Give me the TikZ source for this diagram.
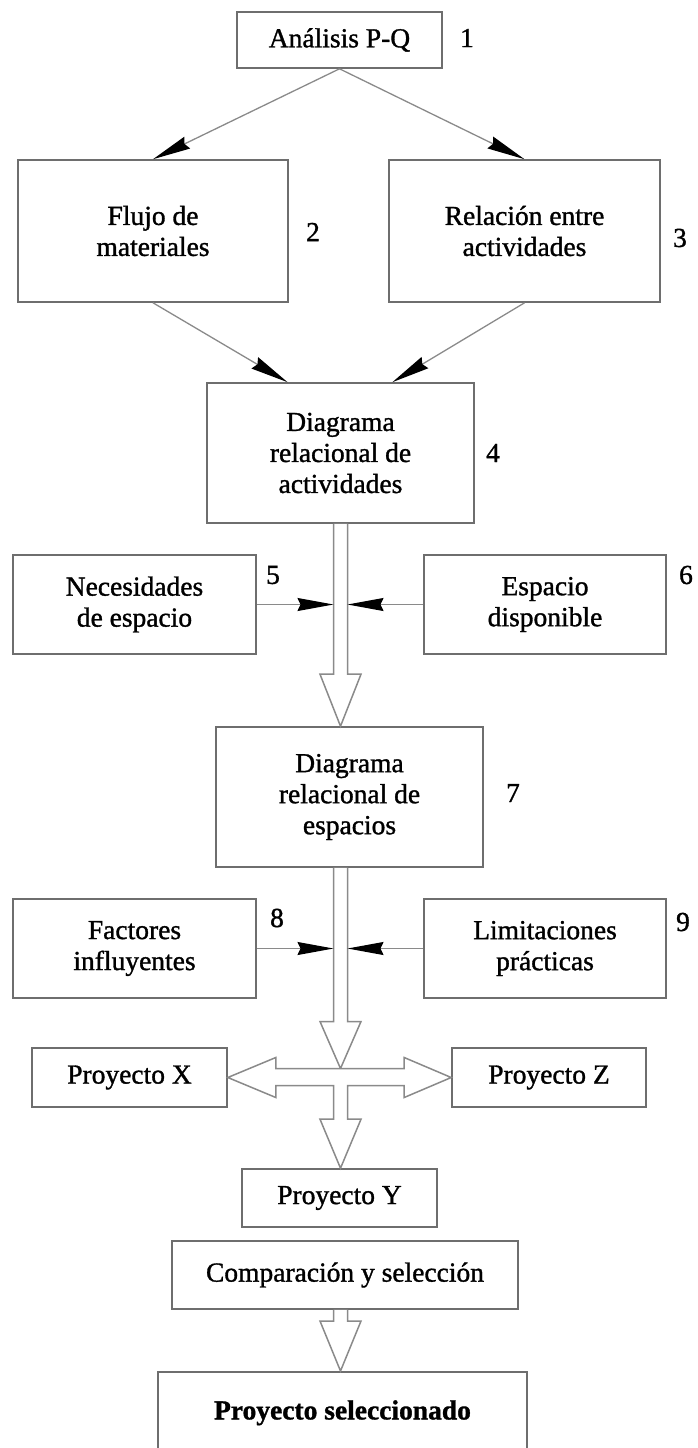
\documentclass[tikz,border=0pt]{standalone}
\usepackage{fontspec}
\setmainfont{Liberation Serif}[RawFeature={embolden=1.2}]
\usetikzlibrary{arrows.meta,calc}
\definecolor{boxgray}{HTML}{6E6E6E}
\definecolor{linegray}{HTML}{8A8A8A}
% vertical hollow arrow: #1 start, #2 tip (same x), #3 head length
\newcommand{\hollowarrow}[3]{%
  \draw[hollow] ($(#1)+(-7,0)$) -- ($(#2)+(-7,-#3)$) -- ($(#2)+(-20.5,-#3)$) -- (#2)
    -- ($(#2)+(20.5,-#3)$) -- ($(#2)+(7,-#3)$) -- ($(#1)+(7,0)$);}
\begin{document}
\begin{tikzpicture}[x=1pt,y=-1pt,
  font=\fontsize{27.5}{31}\selectfont,
  box/.style={draw=boxgray, line width=1.6pt, align=center, inner sep=0pt, text=black},
  num/.style={inner sep=0pt, text=black},
  conn/.style={draw=linegray, line width=1.3pt, -{Stealth[length=38pt,width=13pt,inset=3pt,color=black]}},
  sconn/.style={draw=linegray, line width=1.3pt, -{Stealth[length=36pt,width=13pt,inset=3pt,color=black]}},
  hollow/.style={draw=linegray, line width=1.5pt, fill=white, line join=miter}]
\useasboundingbox (0,0) rectangle (698,1448);
\clip (0,0) rectangle (698,1448);

% boxes
\node[box, minimum width=205, minimum height=56] (b1) at (339.5,40) {Análisis P-Q};
\node[num] (n1) at (467,38) {1};
\node[box, minimum width=270, minimum height=142] (b2) at (153,231) {Flujo de\\materiales};
\node[num] (n2) at (313,232) {2};
\node[box, minimum width=271, minimum height=142] (b3) at (524.5,231) {Relación entre\\actividades};
\node[num] (n3) at (680,238) {3};
\node[box, minimum width=267, minimum height=140] (b4) at (340.5,453) {Diagrama\\relacional de\\actividades};
\node[num] (n4) at (493,453) {4};
\node[box, minimum width=243, minimum height=99] (b5) at (134.5,604.5) {Necesidades\\de espacio};
\node[num] (n5) at (273,575) {5};
\node[box, minimum width=242, minimum height=99] (b6) at (545,604.5) {Espacio\\disponible};
\node[num] (n6) at (686,575) {6};
\node[box, minimum width=267, minimum height=140] (b7) at (349.5,797) {Diagrama\\relacional de\\espacios};
\node[num] (n7) at (513,793) {7};
\node[box, minimum width=243, minimum height=99] (b8) at (134.5,948.5) {Factores\\influyentes};
\node[num] (n8) at (277,918) {8};
\node[box, minimum width=242, minimum height=99] (b9) at (545,948.5) {Limitaciones\\prácticas};
\node[num] (n9) at (683,922) {9};
\node[box, minimum width=195, minimum height=59] (pX) at (129.5,1077.5) {Proyecto X};
\node[box, minimum width=194, minimum height=59] (pZ) at (549,1077.5) {Proyecto Z};
\node[box, minimum width=195, minimum height=58] (pY) at (339.5,1198) {Proyecto Y};
\node[box, minimum width=346, minimum height=68] (cs) at (345,1275) {Comparación y selección};
\node[box, minimum width=369, minimum height=82, anchor=north] (fin) at (342.5,1371) {\bfseries Proyecto seleccionado};

% thin connectors
\coordinate (b4l) at ($(b4.north west)!0.303!(b4.north east)$);
\coordinate (b4r) at ($(b4.north west)!0.693!(b4.north east)$);
\draw[conn] (b1.south) -- (b2.north);
\draw[conn] (b1.south) -- (b3.north);
\draw[conn] (b2.south) -- (b4l);
\draw[conn] (b3.south) -- (b4r);

% axis of the hollow arrows
\coordinate (ax) at (b4.south);
\coordinate (sl) at ($(ax)+(-7,0)$);
\coordinate (sr) at ($(ax)+(7,0)$);
\coordinate (cc) at (ax |- pX.east);

% hollow arrows
\coordinate (a1t) at (ax |- b7.north);
\hollowarrow{ax}{a1t}{52}
\coordinate (a2s) at (ax |- b7.south);
\coordinate (a2t) at ($(cc)+(0,-9)$);
\hollowarrow{a2s}{a2t}{47}

% cross (double arrow + downward branch)
\coordinate (ytip) at (cc |- pY.north);
\draw[hollow] (pX.east) -- ($(pX.east)+(48,-20)$) -- ($(pX.east)+(48,-9)$)
  -- ($(pZ.west)+(-47,-9)$) -- ($(pZ.west)+(-47,-20)$) -- (pZ.west)
  -- ($(pZ.west)+(-47,20)$) -- ($(pZ.west)+(-47,8)$) -- ($(cc)+(7,8)$)
  -- ($(ytip)+(7,-49)$) -- ($(ytip)+(20.5,-49)$) -- (ytip) -- ($(ytip)+(-20.5,-49)$)
  -- ($(ytip)+(-7,-49)$) -- ($(cc)+(-7,8)$) -- ($(pX.east)+(48,8)$)
  -- ($(pX.east)+(48,20)$) -- cycle;

\coordinate (a3s) at (ax |- cs.south);
\coordinate (a3t) at (ax |- fin.north);
\hollowarrow{a3s}{a3t}{50}

% side arrows into the stream
\draw[sconn] (b5.east) -- (sl |- b5.east);
\draw[sconn] (b6.west) -- (sr |- b6.west);
\draw[sconn] (b8.east) -- (sl |- b8.east);
\draw[sconn] (b9.west) -- (sr |- b9.west);
\end{tikzpicture}
\end{document}
